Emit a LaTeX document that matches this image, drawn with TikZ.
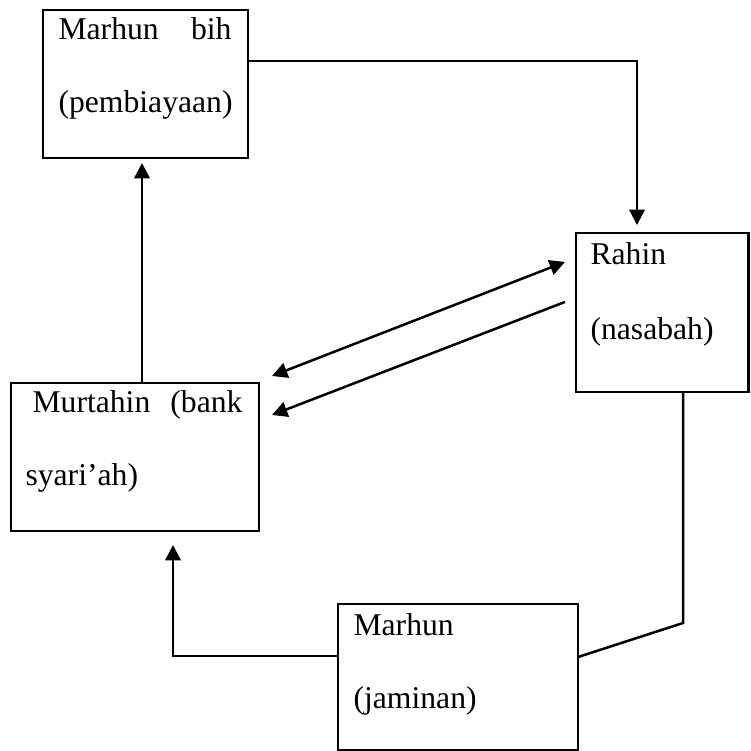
\documentclass[tikz,border=0pt]{standalone}
\usepackage{fontspec}
\setmainfont{Liberation Serif}
\usetikzlibrary{arrows.meta,calc}
\begin{document}
\begin{tikzpicture}[x=0.379pt,y=-0.379pt,
  box/.style={draw,line width=1.05pt,rectangle,inner sep=0pt,outer sep=0pt},
  lbl/.style={anchor=base west,inner sep=0pt,font=\fontsize{12}{14}\selectfont},
  lblr/.style={lbl,anchor=base east},
  conn/.style={line width=0.95pt},
  arr/.style={conn,-{Triangle[length=5.8pt,width=5.8pt]}},
  darr/.style={conn,{Triangle[length=5.8pt,width=5.8pt]}-{Triangle[length=5.8pt,width=5.8pt]}}]
\useasboundingbox (0,0) rectangle (750,751);
% boxes
\node[box,minimum width=77.7pt,minimum height=56.1pt] (b1) at (145.5,84) {};
\node[box,minimum width=65.4pt,minimum height=60.3pt] (b2) at (662.25,312.5) {};
\node[box,minimum width=94.0pt,minimum height=56.1pt] (b3) at (135,457) {};
\node[box,minimum width=91.0pt,minimum height=55.4pt] (b4) at (458,677) {};
% texts
\node[lbl]  (t1a) at (58,40)  {Marhun};
\node[lblr] (t1b) at (232,40) {bih};
\node[lbl]  (t1c) at (58,113) {(pembiayaan)};
\node[lbl]  (t2a) at (590,265) {Rahin};
\node[lbl]  (t2b) at (590,340) {(nasabah)};
\node[lbl]  (t3a) at (32,412) {Murtahin};
\node[lblr] (t3b) at (243,412) {(bank};
\node[lbl]  (t3c) at (25,485) {syari’ah)};
\node[lbl]  (t4a) at (353,635) {Marhun};
\node[lbl]  (t4b) at (353,708) {(jaminan)};
% helper coordinates
\coordinate (c1) at (637,61);
\coordinate (c2) at (142,0);
\coordinate (c3) at (173,656);
\coordinate (c4) at (683,623);
\coordinate (c5) at (0,657);
% connectors
\draw[arr,shorten >=3pt] (b1.east |- c1) -| (b2.north -| c1);
\draw[arr,shorten >=1.9pt] (b3.north -| c2) -- (b1.south -| c2);
\draw[darr] ($(b3.north east)+(13,-7)$) -- ($(b2.north west)+(-11,29)$);
\draw[arr] ($(b2.north west)+(-11,69)$) -- ($(b3.north east)+(13,32)$);
\draw[arr,shorten >=5.3pt] (b4.west |- c3) -| (b3.south -| c3);
\draw[conn] (b2.south -| c4) -- (c4) -- (b4.east |- c5);
\end{tikzpicture}
\end{document}
